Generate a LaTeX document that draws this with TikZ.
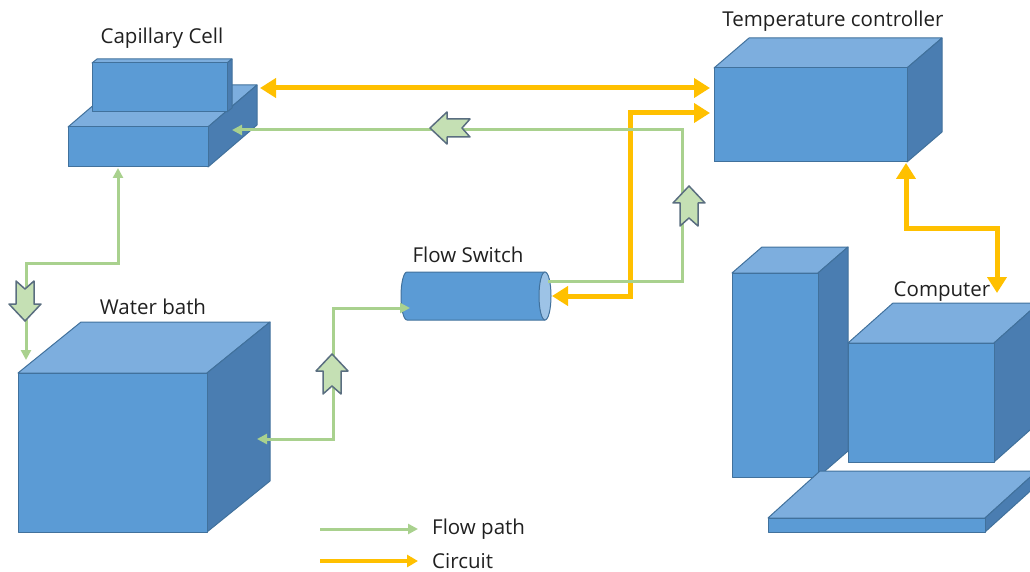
\documentclass[tikz,border=0pt]{standalone}
\usepackage{fontspec}
\setmainfont{Open Sans}
\usetikzlibrary{arrows.meta}

\definecolor{azul}{HTML}{5B9BD5}
\definecolor{azulclaro}{HTML}{7DAEDE}
\definecolor{azuloscuro}{HTML}{4A7DB1}
\definecolor{azultapa}{HTML}{9DC3E6}
\definecolor{borde}{HTML}{41719C}
\definecolor{verde}{HTML}{A9D18E}
\definecolor{verdeclaro}{HTML}{C5E0B4}
\definecolor{amarillo}{HTML}{FFC000}
\definecolor{gris}{HTML}{5A6E80}
\definecolor{texto}{HTML}{202020}

\begin{document}
\begin{tikzpicture}[x=1pt,y=-1pt]
% estilos de linea y relleno
\tikzstyle{cara} = [draw=borde,line width=1pt,line join=round]
\tikzstyle{flujo} = [draw=verde,line width=3pt,>={Triangle[length=10pt,width=10pt]}]
\tikzstyle{circuito} = [draw=amarillo,line width=5pt,>={Triangle[length=16pt,width=19pt]}]
\tikzstyle{marca} = [fill=verdeclaro,draw=gris,line width=1.5pt,line join=round]
\tikzstyle{rotulo} = [text=texto,font=\fontsize{20.5}{24}\selectfont,inner sep=0pt]
% definicion caja en perspectiva
% #1: esquina superior izquierda de la cara frontal
% #2: ancho de la cara frontal
% #3: alto de la cara frontal
% #4: fondo en x
% #5: fondo en y
\newcommand{\caja}[5]{
\coordinate (O) at #1;
\filldraw [cara,fill=azulclaro] (O) -- ++(#4,-#5) -- ++(#2,0) -- ++(-#4,#5) -- cycle;
\filldraw [cara,fill=azuloscuro] (O) ++(#2,0) -- ++(#4,-#5) -- ++(0,#3) -- ++(-#4,#5) -- cycle;
\filldraw [cara,fill=azul] (O) rectangle ++(#2,#3);
}
% definicion flecha de bloque
% #1: centro de la flecha
% #2: angulo de rotacion
\newcommand{\flecha}[2]{
\begin{scope}[shift={#1},rotate=#2]
\filldraw [marca] (20,0) -- (3,16) -- (3,9) -- (-20,9) -- (-12,0) -- (-20,-9) -- (3,-9) -- (3,-16) -- cycle;
\end{scope}
}
% --------------------------------------
\useasboundingbox (0,0) rectangle (1030,572);
\clip (0,0) rectangle (1030,572);
% --------------------------------------
% dibujar equipos
\caja{(68,127)}{140}{40}{49}{42}   % celda capilar, base
\caja{(92,63)}{135}{49}{5}{4}      % celda capilar, cuerpo
\caja{(714,68)}{193}{94}{35}{30}   % controlador de temperatura
\caja{(18,373)}{189}{159}{63}{51}  % bano de agua
\caja{(732,273)}{86}{204}{30}{26}  % torre
\caja{(848,343)}{146}{119}{45}{40} % monitor
\caja{(768,518)}{217}{14}{52}{47}  % teclado
% interruptor de flujo
\filldraw [cara,fill=azul] (545,272) -- (407,272)
  arc [start angle=270,end angle=90,x radius=6,y radius=24] -- (545,320) -- cycle;
\filldraw [cara,fill=azultapa] (545,296) ellipse [x radius=6,y radius=24];
% --------------------------------------
% rotulos
\node [rotulo] (tcap) at (162,38) {Capillary Cell};
\node [rotulo] (ttc) at (833,21) {Temperature controller};
\node [rotulo] (tfs) at (468,255) {Flow Switch};
\node [rotulo] (twb) at (153,307) {Water bath};
\node [rotulo] (tpc) at (942,292) {Computer};
% --------------------------------------
% puntos de conexion
\coordinate (cc-der) at (232,130);
\coordinate (cc-amar) at (260,88);
\coordinate (cc-inf) at (118,168);
\coordinate (tc-izq1) at (710,88);
\coordinate (tc-izq2) at (710,113);
\coordinate (tc-inf) at (906,163);
\coordinate (fs-der) at (548,281);
\coordinate (fs-amar) at (552,296);
\coordinate (fs-izq) at (410,308);
\coordinate (wb-der) at (257,439);
\coordinate (wb-sup) at (26,360);
\coordinate (pc-sup) at (997,293);
% codos
\coordinate (codo1) at (682,281);
\coordinate (codo2) at (26,263);
\coordinate (codo3) at (333,308);
\coordinate (codo4) at (630,113);
\coordinate (codo5) at (997,228);
% dibujar circuito
\draw [circuito,<->] (cc-amar) -- (tc-izq1);
\draw [circuito,<->] (fs-amar) -| (codo4) -- (tc-izq2);
\draw [circuito,<->] (tc-inf) |- (codo5) -- (pc-sup);
% dibujar camino de flujo
\draw [flujo,->] (fs-der) -- (codo1) |- (cc-der);
\draw [flujo,<->] (cc-inf) |- (codo2) -- (wb-sup);
\draw [flujo,<->] (wb-der) -| (codo3) -- (fs-izq);
% sentido del flujo
\flecha{(450,128)}{180}
\flecha{(689,206)}{90}
\flecha{(25,301)}{-90}
\flecha{(332,374)}{90}
% --------------------------------------
% leyenda
\coordinate (ley1a) at (320,529);
\coordinate (ley1b) at (418,529);
\coordinate (ley2a) at (320,561);
\coordinate (ley2b) at (418,561);
\draw [flujo,->] (ley1a) -- (ley1b);
\draw [circuito,line width=4pt,->,>={Triangle[length=11pt,width=12pt]}] (ley2a) -- (ley2b);
\node [rotulo,anchor=west] (tley1) at (432,529) {Flow path};
\node [rotulo,anchor=west] (tley2) at (432,561) {Circuit};
% --------------------------------------
\end{tikzpicture}
\end{document}
